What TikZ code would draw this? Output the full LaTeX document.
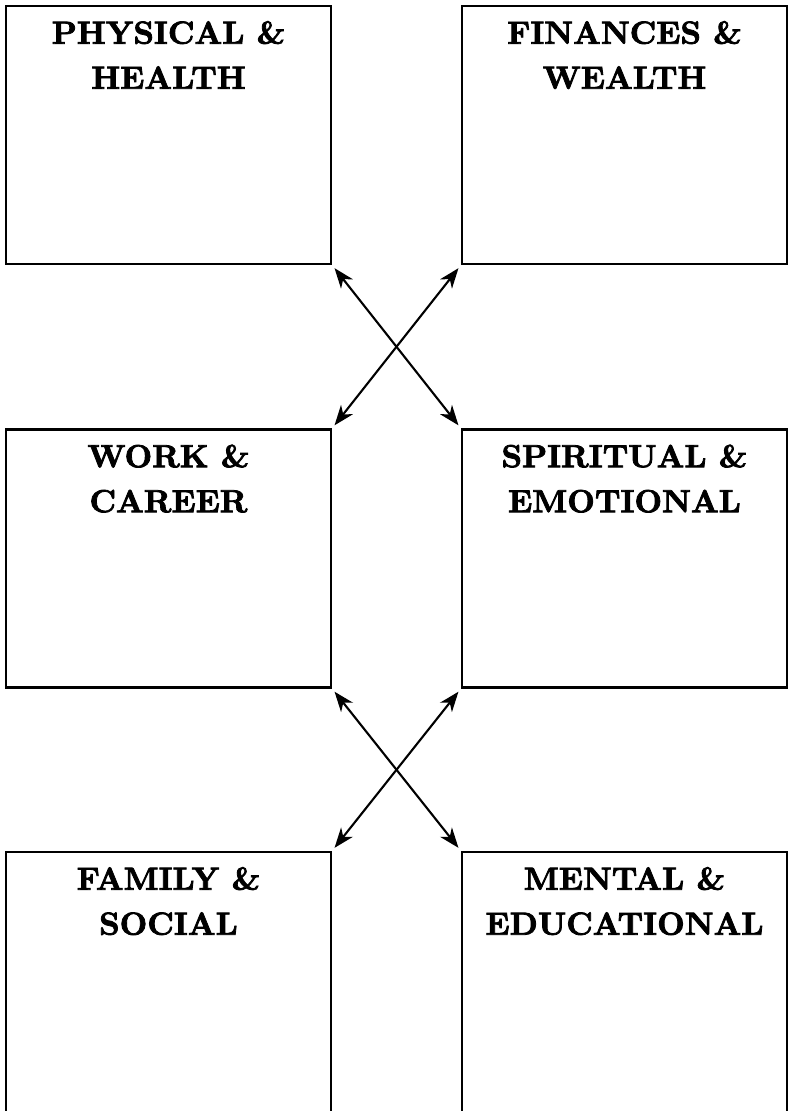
\documentclass[tikz,border=0pt]{standalone}
\usepackage{fontspec}
\newfontfamily\titlefont{lmroman10-bold.otf}[FakeBold=2.5]
\usetikzlibrary{arrows.meta,calc}
\begin{document}
\begin{tikzpicture}[x=1pt,y=-1pt,
  box/.style={draw=black, line width=2.1pt, rectangle, minimum width=325pt, minimum height=258pt, inner sep=0pt},
  bottombox/.style={box, minimum height=264pt},
  title/.style={anchor=north, inner sep=0pt, align=center, font=\fontsize{32}{45}\titlefont},
  link/.style={line width=2.1pt, {Stealth[length=20pt,width=15pt,inset=6pt]}-{Stealth[length=20pt,width=15pt,inset=6pt]}, shorten <=4pt, shorten >=4pt}]
\useasboundingbox (0,0) rectangle (789,1111);
% boxes
\node[box] (ph) at (168.5,135) {};
\node[box] (fw) at (624.5,135) {};
\node[box] (wc) at (168.5,558.5) {};
\node[box] (se) at (624.5,558.5) {};
\node[bottombox] (fs) at (168.5,984) {};
\node[bottombox] (me) at (624.5,984) {};
% titles
\node[title] (tph) at ([yshift=-16pt]ph.north) {PHYSICAL \&\\HEALTH};
\node[title] (tfw) at ([yshift=-16pt]fw.north) {FINANCES \&\\WEALTH};
\node[title] (twc) at ([yshift=-16pt]wc.north) {WORK \&\\CAREER};
\node[title] (tse) at ([yshift=-16pt]se.north) {SPIRITUAL \&\\EMOTIONAL};
\node[title] (tfs) at ([yshift=-16pt]fs.north) {FAMILY \&\\SOCIAL};
\node[title] (tme) at ([yshift=-16pt]me.north) {MENTAL \&\\EDUCATIONAL};
% connectors
\draw[link] (ph.south east) -- (se.north west);
\draw[link] (fw.south west) -- (wc.north east);
\draw[link] (wc.south east) -- (me.north west);
\draw[link] (se.south west) -- (fs.north east);
\end{tikzpicture}
\end{document}
